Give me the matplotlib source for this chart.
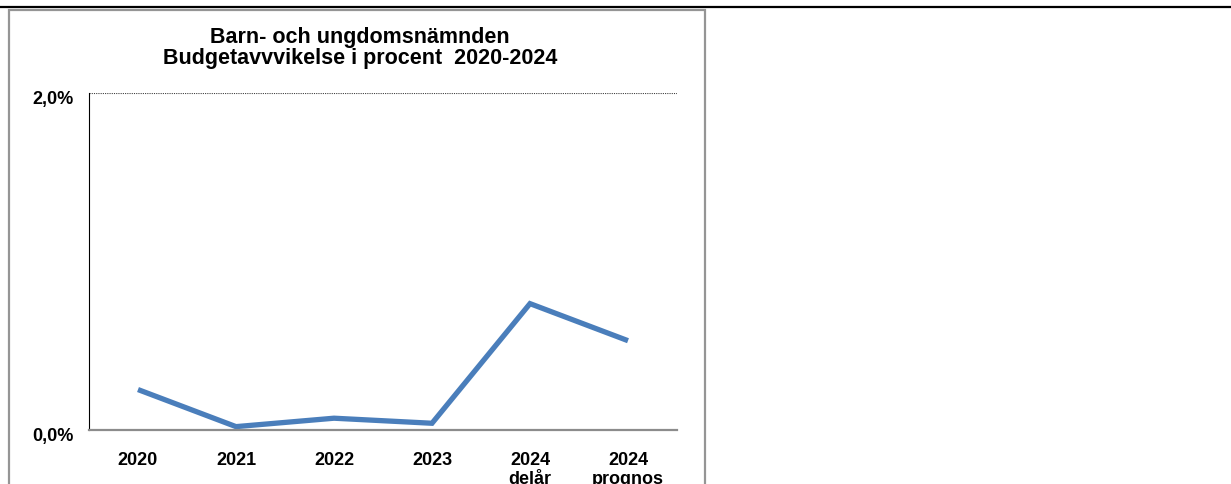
import matplotlib.pyplot as plt
import matplotlib.transforms as mtransforms
from matplotlib.lines import Line2D
from matplotlib.patches import Rectangle
from matplotlib.ticker import FuncFormatter

plt.rcParams['font.family'] = ['Liberation Sans', 'DejaVu Sans']

# data
labels = ['2020', '2021', '2022', '2023', '2024\ndelår', '2024\nprognos']
values = [0.24, 0.02, 0.07, 0.04, 0.75, 0.53]   # procent
yticks = [0.0, 2.0]
title = 'Barn- och ungdomsnämnden\nBudgetavvvikelse i procent  2020-2024'

W, H = 1231, 484
fig = plt.figure(figsize=(W / 100, H / 100), dpi=100)

# outer decorations: top rule and gray chart frame
fig.add_artist(Line2D([0, 1230 / W], [1 - 7 / H, 1 - 7 / H], transform=fig.transFigure,
                      color='black', lw=1.6))
fig.add_artist(Rectangle((9 / W, -0.1), (705 - 9) / W, 1 - 10 / H + 0.1,
                         transform=fig.transFigure, fill=False, edgecolor='#959595', lw=1.6))

ax = fig.add_axes([89 / W, 1 - 430 / H, (677 - 89) / W, (430 - 93) / H])
ax.plot(range(len(values)), values, color='#4A7EBB', lw=3.8, solid_capstyle='butt',
        solid_joinstyle='miter')

ax.set_xlim(-0.5, len(values) - 0.5)
ax.set_ylim(0, 2.0)
ax.set_yticks(yticks)
ax.yaxis.set_major_formatter(FuncFormatter(lambda v, p: f'{v:.1f}%'.replace('.', ',')))
ax.set_xticks(range(len(labels)))
ax.set_xticklabels(labels, linespacing=1.1)
ax.tick_params(length=0, labelsize=13)
ax.tick_params(axis='x', pad=16)
ax.tick_params(axis='y', pad=11)
for t in ax.get_xticklabels() + ax.get_yticklabels():
    t.set_fontweight('bold')
shift = mtransforms.ScaledTranslation(0, -4 / 100, fig.dpi_scale_trans)
for t in ax.get_yticklabels():
    t.set_transform(t.get_transform() + shift)

ax.axhline(2.0, color='#404040', lw=0.8, ls=(0, (1, 1)))
for s in ['top', 'right']:
    ax.spines[s].set_visible(False)
ax.spines['left'].set_color('black')
ax.spines['left'].set_linewidth(0.8)
ax.spines['bottom'].set_color('#8c8c8c')
ax.spines['bottom'].set_linewidth(1.6)

fig.text(360 / W, 1 - 48 / H, title, ha='center', va='center', fontsize=15.5,
         fontweight='bold', linespacing=1.0)

fig.savefig('out.png', dpi=100)
